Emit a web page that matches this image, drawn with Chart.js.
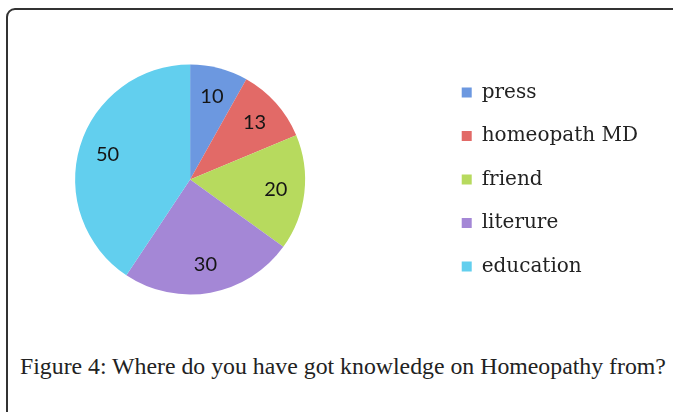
<!DOCTYPE html>
<html>
<head>
<meta charset="utf-8">
<script src="https://cdn.jsdelivr.net/npm/chart.js@4"></script>
<style>
  html, body { margin: 0; padding: 0; background: #fff; }
  body { width: 673px; height: 412px; position: relative; overflow: hidden; }
  .frame {
    position: absolute; left: 6px; top: 8px; width: 720px; height: 440px;
    border: 2px solid #333; border-radius: 9px; box-sizing: border-box;
  }
  .plot { position: absolute; left: -58px; top: 0; }
  .caption {
    position: absolute; left: 20px; top: 353px;
    font-family: "Liberation Serif", "Times New Roman", serif;
    font-size: 23.8px; color: #222; white-space: nowrap;
  }
</style>
</head>
<body>
<div class="frame"></div>
<div class="plot"><canvas id="pie" width="731" height="330"></canvas></div>
<div class="caption">Figure 4: Where do you have got knowledge on Homeopathy from?</div>
<script>
  const categories = ['press', 'homeopath MD', 'friend', 'literure', 'education'];
  const values = [10, 13, 20, 30, 50];
  const colors = ['#6c98e0', '#e26a67', '#b7da5e', '#a487d6', '#62cfee'];

  // valeurs écrites dans chaque part
  const sliceLabels = {
    id: 'sliceLabels',
    afterDatasetsDraw(chart) {
      const ctx = chart.ctx;
      const arcs = chart.getDatasetMeta(0).data;
      ctx.save();
      ctx.font = '20px Lato, "Open Sans", sans-serif';
      ctx.fillStyle = '#151515';
      ctx.textAlign = 'center';
      ctx.textBaseline = 'middle';
      arcs.forEach((arc, i) => {
        const p = arc.getProps(['x', 'y', 'startAngle', 'endAngle', 'outerRadius'], true);
        const mid = (p.startAngle + p.endAngle) / 2;
        const r = p.outerRadius * 0.75;
        ctx.fillText(String(values[i]), p.x + Math.cos(mid) * r, p.y + Math.sin(mid) * r);
      });
      ctx.restore();
    }
  };

  const pieChart = new Chart(document.getElementById('pie').getContext('2d'), {
    type: 'pie',
    data: {
      labels: categories,
      datasets: [{
        data: values,
        backgroundColor: colors,
        borderWidth: 0,
        radius: 115
      }]
    },
    options: {
      responsive: false,
      animation: false,
      devicePixelRatio: 1,
      layout: { padding: { top: 41, bottom: 12, left: 0, right: 25 } },
      plugins: {
        tooltip: { enabled: false },
        legend: {
          position: 'right',
          labels: {
            boxWidth: 10,
            boxHeight: 10,
            padding: 23.5,
            color: '#222',
            font: { family: '"DejaVu Serif", serif', size: 20 }
          }
        }
      }
    },
    plugins: [sliceLabels]
  });
</script>
</body>
</html>
